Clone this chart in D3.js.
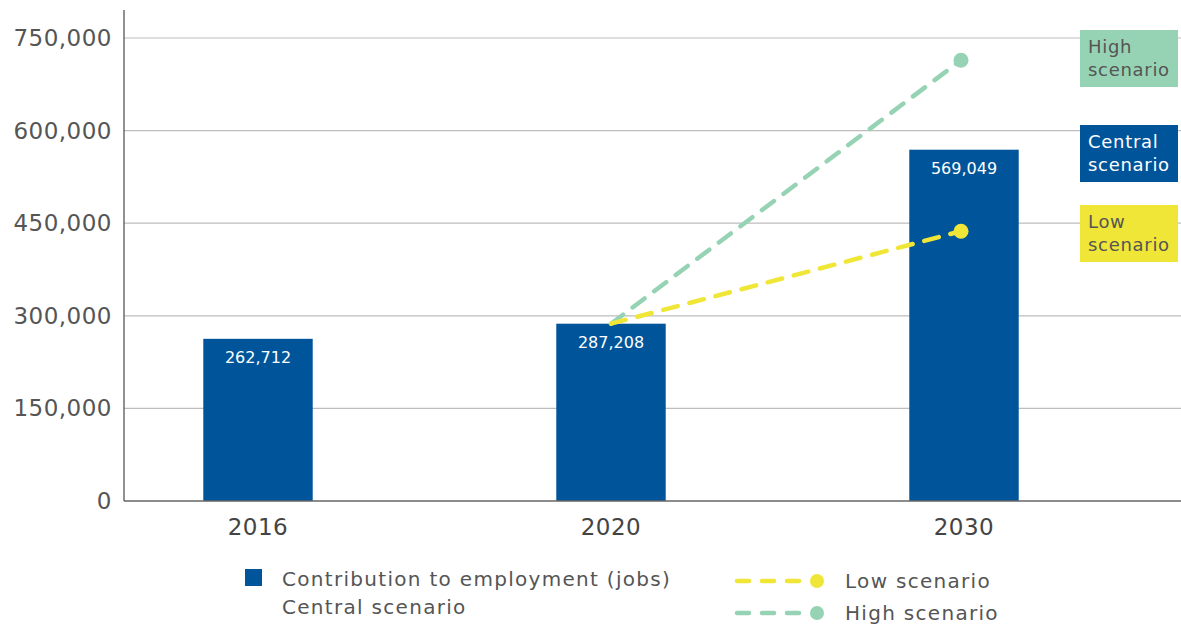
<!DOCTYPE html>
<html lang="en">
<head>
<meta charset="UTF-8">
<script src="https://d3js.org/d3.v7.min.js"></script>
<style>
  body { margin: 0; background: #fff; }
  svg { display: block; font-family: "DejaVu Sans", sans-serif; }
</style>
</head>
<body>
<script>
  // data
  const years = ["2016", "2020", "2030"];
  const central = [262712, 287208, 569049];
  const lowYears = ["2020", "2030"];
  const lowValues = [287208, 437000];
  const highYears = ["2020", "2030"];
  const highValues = [287208, 714000];
  const yTicks = [0, 150000, 300000, 450000, 600000, 750000];

  const w = 1181, h = 631;
  const blue = "#00559a", green = "#96d3b4", yellow = "#f0e637";
  const left = 124, baseY = 501, topY = 38;

  const svg = d3.select("body").append("svg")
    .attr("width", w)
    .attr("height", h);

  const x = d3.scaleBand()
    .domain(years)
    .range([81.5, 1140.5])
    .paddingInner(0.69)
    .paddingOuter(0.345);

  const y = d3.scaleLinear()
    .domain([0, 750000])
    .range([baseY, topY]);

  const fmt = d3.format(",");

  // gridlines
  svg.append("g")
    .selectAll("line")
    .data(yTicks.slice(1))
    .join("line")
    .attr("x1", left).attr("x2", w)
    .attr("y1", d => y(d)).attr("y2", d => y(d))
    .attr("stroke", "#bdbdbd")
    .attr("stroke-width", 1.2);

  // y tick labels
  svg.append("g")
    .selectAll("text")
    .data(yTicks)
    .join("text")
    .attr("x", 112)
    .attr("y", d => y(d) + 8)
    .attr("text-anchor", "end")
    .attr("font-size", 23)
    .attr("letter-spacing", 0.5)
    .attr("fill", "#555")
    .text(d => fmt(d));

  // bars
  svg.append("g")
    .selectAll("rect")
    .data(years)
    .join("rect")
    .attr("x", d => x(d))
    .attr("width", x.bandwidth())
    .attr("y", (d, i) => y(central[i]))
    .attr("height", (d, i) => baseY - y(central[i]))
    .attr("fill", blue);

  svg.append("g")
    .selectAll("text")
    .data(years)
    .join("text")
    .attr("x", d => x(d) + x.bandwidth() / 2)
    .attr("y", (d, i) => y(central[i]) + 24)
    .attr("text-anchor", "middle")
    .attr("font-size", 16)
    .attr("fill", "#fff")
    .text((d, i) => fmt(central[i]));

  // axes lines
  svg.append("line")
    .attr("x1", left).attr("x2", left)
    .attr("y1", 10).attr("y2", baseY)
    .attr("stroke", "#555").attr("stroke-width", 1.3);
  svg.append("line")
    .attr("x1", left).attr("x2", w)
    .attr("y1", baseY).attr("y2", baseY)
    .attr("stroke", "#666").attr("stroke-width", 1.5);

  // x labels
  svg.append("g")
    .selectAll("text")
    .data(years)
    .join("text")
    .attr("x", d => x(d) + x.bandwidth() / 2)
    .attr("y", 535)
    .attr("text-anchor", "middle")
    .attr("font-size", 23)
    .attr("letter-spacing", 0.5)
    .attr("fill", "#444")
    .text(d => d);

  // scenario lines
  const cx = d => x(d) + x.bandwidth() / 2;
  function scenario(yrs, vals, color) {
    const pts = yrs.map((d, i) => [cx(d) - (i > 0 ? 3 : 0), y(vals[i])]);
    svg.append("path")
      .attr("d", d3.line()(pts))
      .attr("fill", "none")
      .attr("stroke", color)
      .attr("stroke-width", 4.5)
      .attr("stroke-linecap", "round")
      .attr("stroke-dasharray", "15 12");
    svg.append("circle")
      .attr("cx", pts[pts.length - 1][0])
      .attr("cy", pts[pts.length - 1][1])
      .attr("r", 7.5)
      .attr("fill", color);
  }
  scenario(highYears, highValues, green);
  scenario(lowYears, lowValues, yellow);

  // right-hand labels
  const tags = [
    { lines: ["High", "scenario"], fill: green, color: "#555", y: 30 },
    { lines: ["Central", "scenario"], fill: blue, color: "#fff", y: 125 },
    { lines: ["Low", "scenario"], fill: yellow, color: "#555", y: 205 }
  ];
  const tag = svg.append("g").selectAll("g")
    .data(tags)
    .join("g")
    .attr("transform", d => `translate(1080,${d.y})`);
  tag.append("rect")
    .attr("width", 98).attr("height", 57)
    .attr("fill", d => d.fill);
  tag.append("text")
    .attr("font-size", 18)
    .attr("letter-spacing", 0.7)
    .attr("fill", d => d.color)
    .selectAll("tspan")
    .data(d => d.lines)
    .join("tspan")
    .attr("x", 8)
    .attr("y", (d, i) => 23 + i * 23)
    .text(d => d);

  // legend
  const lg = svg.append("g").attr("font-size", 20).attr("letter-spacing", 1.3).attr("fill", "#555");
  lg.append("rect")
    .attr("x", 245).attr("y", 569)
    .attr("width", 17).attr("height", 17)
    .attr("fill", blue);
  lg.append("text").attr("x", 282).attr("y", 586).text("Contribution to employment (jobs)");
  lg.append("text").attr("x", 282).attr("y", 614).text("Central scenario");

  const legLines = [
    { label: "Low scenario", color: yellow, y: 581 },
    { label: "High scenario", color: green, y: 613 }
  ];
  legLines.forEach(d => {
    lg.append("line")
      .attr("x1", 737).attr("x2", 812)
      .attr("y1", d.y).attr("y2", d.y)
      .attr("stroke", d.color)
      .attr("stroke-width", 4.5)
      .attr("stroke-linecap", "round")
      .attr("stroke-dasharray", "12 13");
    lg.append("circle")
      .attr("cx", 817).attr("cy", d.y).attr("r", 7)
      .attr("fill", d.color);
    lg.append("text")
      .attr("x", 845).attr("y", d.y + 7)
      .text(d.label);
  });
</script>
</body>
</html>
